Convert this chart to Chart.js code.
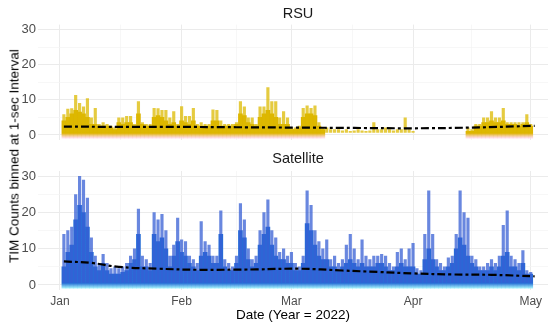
<!DOCTYPE html>
<html>
<head>
<meta charset="utf-8">
<script src="https://cdn.jsdelivr.net/npm/chart.js@4.4.1/dist/chart.umd.min.js"></script>
<style>
  body { margin: 0; background: #fff; }
  #wrap { position: relative; width: 550px; height: 326px; font-family: "Liberation Sans", Arial, sans-serif; }
  #top { position: absolute; left: 0; top: 0; }
  #bot { position: absolute; left: 0; top: 150px; }
  #ytitle { position: absolute; left: 14px; top: 156px; transform: translate(-50%, -50%) rotate(-90deg);
            white-space: nowrap; font-size: 13.5px; color: #000; }
</style>
</head>
<body>
<div id="wrap">
  <canvas id="top" width="550" height="150"></canvas>
  <canvas id="bot" width="550" height="176"></canvas>
  <div id="ytitle">TIM Counts binned at 1-sec Interval</div>
</div>
<script>
// x = days since Jan 1 2022
var monthTicks = [0, 31, 59, 90, 120];
var monthLabels = ["Jan", "Feb", "Mar", "Apr", "May"];
var xMinor = [15.5, 45, 74.5, 105];
var yTicks = [0, 5, 10, 15, 20, 25, 30];

// daily highest count (days 1..120)
var satMax = [
  14, 15, 16, 25, 30, 29, 24, 13, 8, 6,
  8.5, 6, 4.5, 5, 4.5, 5, 6, 8, 10, 21,
  8, 7, 6, 20, 18, 19.5, 15, 8, 11, 18.5,
  12.5, 12, 8, 7, 6, 17.5, 12, 11, 8, 8,
  20.5, 7, 6, 5, 8, 22.5, 18, 10, 7, 8,
  15, 20, 23.5, 15, 13, 9, 10, 8, 9, 6,
  5, 8, 26, 22, 15, 12, 10, 12.5, 7, 8,
  6, 7, 11, 14, 10, 7, 12.5, 8, 7, 8,
  8, 8.5, 8, 6, 5, 9, 10, 7, 10, 11.5,
  4.5, 4, 14, 26, 14, 7, 6, 5, 7.5, 8,
  14, 26, 20, 18.5, 8, 7, 5, 5, 6, 7,
  6, 8, 16.5, 20.5, 8, 7, 6, 9.5, 4, 3.5
];
// daily level of the dense cloud of points
var satDense = [
  5, 9, 11, 18, 22, 20, 16, 9, 5, 4,
  6, 4, 3, 3, 3, 3.5, 4, 6, 7, 14,
  5, 5, 4, 14, 12, 13, 10, 5, 8, 12,
  9, 8, 6, 5, 4, 8, 9, 8, 6, 6,
  14, 5, 4, 4, 6, 15, 13, 7, 5, 6,
  11, 14, 16, 11, 8, 7, 7, 6, 6, 4,
  4, 6, 17, 15, 11, 8, 7, 7, 5, 5,
  4, 5, 6, 7, 6, 5, 6, 5, 5, 5,
  6, 6, 5, 4, 4, 5, 6, 5, 5, 5,
  3, 3, 7, 10, 7, 5, 4, 4, 5, 6,
  10, 13, 11, 8, 6, 5, 4, 4, 4, 5,
  4, 5, 8, 9, 5, 5, 4, 6, 3, 3
];
var rsuMax = [
  5.8, 7.4, 7.5, 11.3, 9, 8, 10.4, 4.9, 7.6, 3,
  3.5, 3, 2.5, 2, 4.9, 4.9, 5.3, 5.3, 3, 9.5,
  3.5, 3, 3, 7.6, 7.5, 7, 7, 4.9, 6.7, 3,
  8.1, 5.3, 5.3, 7.6, 3, 3.5, 3, 3, 7.2, 7,
  4, 3, 3, 3, 3.5, 9.5, 8, 4.9, 4.9, 3,
  8, 8, 13.5, 9.5, 9.5, 4.9, 6.7, 4.9, 2, 2,
  2.5, 7.6, 8.3, 7.6, 8.3, 3.5, 2, 2, 1.5, 1.5,
  1.5, 1.2, 1.5, 1, 1.2, 1.5, 1.2, 1, 1.2, 3.5,
  1.5, 1.5, 2, 1.5, 1.2, 1.5, 1.5, 4.9, 1.5, 1,
  null, null, null, null, null, null, null, null, null, null,
  null, null, null, 2, 1.5, 3, 3, 4.9, 4.9, 6.7,
  4.9, 4.9, 7.6, 3.5, 3.5, 3.5, 3.5, 3.5, 5.8, 3
];
var rsuDense = [
  4, 5, 6, 7, 6.5, 6, 5, 3, 3, 2.5,
  2.5, 2.5, 2, 1.5, 3.5, 3, 3.5, 3.5, 2.5, 6,
  3, 2.5, 2.5, 5, 5.5, 5, 4, 3, 3.5, 2.5,
  4, 3.5, 3, 4, 2.5, 2.5, 2.5, 2.5, 4, 4,
  2.5, 2.5, 2.5, 2.5, 3, 6, 5.5, 3.5, 3, 2.5,
  5, 6, 7, 6, 5, 3, 3, 3, 1.5, 1.5,
  2, 5, 6, 6, 5.5, 2.5, 1.5, null, null, null,
  null, null, null, null, null, null, null, null, null, null,
  null, null, null, null, null, null, null, null, null, null,
  null, null, null, null, null, null, null, null, null, null,
  null, null, null, 1, 1, 2.5, 2.5, 3.5, 3.5, 4,
  3.5, 3.5, 4, 3, 3, 3, 2.5, 3, 3.5, 2.5
];

// smoothed trend (dashed line)
var rsuSmoothDays = [1, 15, 30, 45, 60, 75, 90, 105, 121];
var rsuSmooth = [2.4, 2.3, 2.3, 2.2, 2.1, 2.0, 1.9, 2.1, 2.6];
var satSmoothDays = [1, 8, 15, 25, 35, 50, 61, 72, 81, 90, 100, 110, 121];
var satSmooth = [6.5, 6.1, 5.0, 4.5, 4.2, 4.3, 4.5, 4.0, 3.6, 3.2, 2.9, 2.8, 2.4];

var days = [];
for (var d = 1; d <= 120; d++) days.push(d);

Chart.defaults.font.family = '"Liberation Sans", Arial, sans-serif';

function bars(values, lo) {
  return days.map(function(d, i) {
    return values[i] == null ? null : { x: d, y: [lo, values[i]] };
  }).filter(Boolean);
}
function linePts(xs, ys) {
  return xs.map(function(x, i) { return { x: x, y: ys[i] }; });
}
function fade(top, bottom) {
  return function(c) {
    var ch = c.chart;
    if (!ch.chartArea) return top;
    var y = ch.scales.y;
    var g = ch.ctx.createLinearGradient(0, y.getPixelForValue(0.5), 0, y.getPixelForValue(-0.9));
    g.addColorStop(0, top);
    g.addColorStop(1, bottom);
    return g;
  };
}

var facetTitle = {
  id: 'facetTitle',
  afterDraw: function(chart, args, opts) {
    var c = chart.ctx;
    c.save();
    c.font = '14.5px "Liberation Sans", Arial, sans-serif';
    c.fillStyle = '#1A1A1A';
    c.textAlign = 'center';
    c.textBaseline = 'middle';
    c.fillText(opts.text, 298, opts.y);
    c.restore();
  }
};

function makeChart(id, opts) {
  var bottom = opts.bottom;
  return new Chart(document.getElementById(id), {
    type: 'bar',
    data: {
      datasets: [
        { type: 'line', data: linePts(opts.smoothDays, opts.smooth), borderColor: '#000', borderWidth: 2.2,
          borderDash: [8, 3, 3, 3], pointRadius: 0, tension: 0.4, order: 0 },
        { data: bars(opts.max, 0.7), backgroundColor: opts.spikeColor, barThickness: 2.5, grouped: false, order: 1 },
        { data: bars(opts.dense, -0.9), backgroundColor: fade(opts.denseColor, opts.haloColor),
          barThickness: 4, grouped: false, order: 2 }
      ]
    },
    options: {
      responsive: false,
      animation: false,
      layout: { padding: { top: opts.padTop, bottom: opts.padBottom, left: 0, right: 2 } },
      plugins: { legend: { display: false }, tooltip: { enabled: false },
                 facetTitle: { text: opts.title, y: opts.titleY } },
      scales: {
        x: {
          type: 'linear', min: -5.6, max: 124.4, offset: false,
          afterBuildTicks: function(s) {
            s.ticks = monthTicks.concat(xMinor).sort(function(a, b) { return a - b; })
              .map(function(v) { return { value: v }; });
          },
          afterFit: function(s) { s.height = bottom ? 35.6 : 0; },
          ticks: {
            display: bottom, autoSkip: false, maxRotation: 0, padding: 4,
            color: '#4D4D4D', font: { size: 12 },
            callback: function(v) { var k = monthTicks.indexOf(v); return k < 0 ? '' : monthLabels[k]; }
          },
          grid: {
            drawTicks: false, offset: false,
            color: function(c) { return monthTicks.indexOf(c.tick.value) >= 0 ? '#EBEBEB' : '#F4F4F4'; },
            lineWidth: function(c) { return monthTicks.indexOf(c.tick.value) >= 0 ? 1 : 0.7; }
          },
          border: { display: false },
          title: { display: bottom, text: 'Date (Year = 2022)', color: '#000', font: { size: 13.5 },
                   padding: { top: 0, bottom: 3 } }
        },
        y: {
          min: -1.5, max: 31.5,
          afterBuildTicks: function(s) { s.ticks = yTicks.map(function(v) { return { value: v }; }); },
          afterFit: function(s) { s.width = 38; },
          ticks: {
            padding: 2, color: '#4D4D4D', font: { size: 13 },
            callback: function(v) { return v % 10 === 0 ? String(v) : ''; }
          },
          grid: {
            drawTicks: false,
            color: function(c) { return c.tick.value % 10 === 0 ? '#EBEBEB' : '#F4F4F4'; },
            lineWidth: function(c) { return c.tick.value % 10 === 0 ? 1 : 0.7; }
          },
          border: { display: false }
        }
      }
    },
    plugins: [facetTitle]
  });
}

makeChart('top', {
  bottom: false, padTop: 24.6, padBottom: 5.6, title: 'RSU', titleY: 13.5,
  max: rsuMax, dense: rsuDense, smoothDays: rsuSmoothDays, smooth: rsuSmooth,
  spikeColor: 'rgba(220,185,0,0.75)', denseColor: 'rgb(222,180,0)', haloColor: 'rgba(255,210,232,0.7)'
});
makeChart('bot', {
  bottom: true, padTop: 21, padBottom: 0, title: 'Satellite', titleY: 9,
  max: satMax, dense: satDense, smoothDays: satSmoothDays, smooth: satSmooth,
  spikeColor: 'rgba(55,95,212,0.75)', denseColor: 'rgb(38,110,215)', haloColor: 'rgba(150,238,250,0.85)'
});
</script>
</body>
</html>
